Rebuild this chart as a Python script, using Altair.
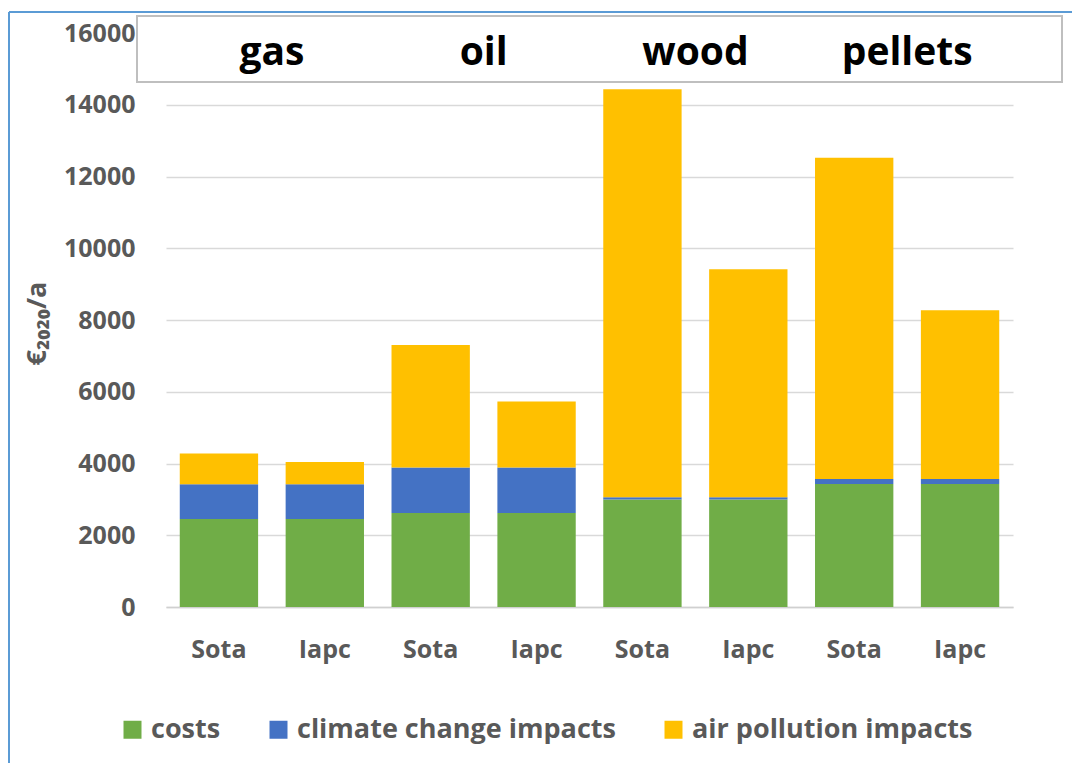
import altair as alt
import pandas as pd

# Annual cost of heating options, split into private costs and external impacts
fuels = ["gas", "gas", "oil", "oil", "wood", "wood", "pellets", "pellets"]
variants = ["Sota", "Iapc", "Sota", "Iapc", "Sota", "Iapc", "Sota", "Iapc"]
costs = [2450, 2450, 2620, 2620, 3000, 3000, 3430, 3430]
climate_change = [970, 970, 1270, 1270, 60, 60, 140, 140]
air_pollution = [860, 625, 3410, 1840, 11370, 6355, 8955, 4705]

components = ["costs", "climate change impacts", "air pollution impacts"]
colors = ["#70AD47", "#4472C4", "#FFC000"]
fuel_labels = ["gas", "oil", "wood", "pellets"]
y_ticks = [0, 2000, 4000, 6000, 8000, 10000, 12000, 14000, 16000]

rows = []
for i, (f, v) in enumerate(zip(fuels, variants)):
    key = f + " " + v
    for j, (comp, vals) in enumerate(zip(components, [costs, climate_change, air_pollution])):
        rows.append({"bar": key, "component": comp, "order": j, "value": vals[i]})
df = pd.DataFrame(rows)
bar_order = [f + " " + v for f, v in zip(fuels, variants)]

W, H = 847, 574
LEFT, TOP = 166, 33
FONT = "Open Sans"
GREY = "#595959"

x_scale = alt.Scale(domain=bar_order, paddingInner=0.26, paddingOuter=0.13)

bars = alt.Chart(df).mark_bar().encode(
    x=alt.X("bar:N", scale=x_scale, sort=bar_order, title=None,
            axis=alt.Axis(labelExpr="split(datum.label, ' ')[1]", labelAngle=0,
                          labelFont=FONT, labelFontWeight="bold", labelFontSize=25,
                          labelColor=GREY, labelPadding=30, ticks=False,
                          domainColor="#d0d0d0", domainWidth=1.5)),
    y=alt.Y("value:Q", stack="zero",
            scale=alt.Scale(domain=[0, 16000], nice=False),
            title="€₂₀₂₀/a",
            axis=alt.Axis(values=y_ticks, format="d", labelFont=FONT,
                          labelFontWeight="bold", labelFontSize=25, labelColor=GREY,
                          labelPadding=31, ticks=False, domain=False,
                          gridColor="#d9d9d9", gridWidth=1.5, titleFont=FONT,
                          titleFontWeight="bold", titleFontSize=27, titleColor=GREY,
                          titleAngle=-90, titleX=-129, titleY=290,
                          titleAlign="center", titleBaseline="middle")),
    color=alt.Color("component:N", scale=alt.Scale(domain=components, range=colors),
                    legend=alt.Legend(title=None, orient="none", direction="horizontal",
                                      legendX=-47, legendY=683, symbolType="square",
                                      symbolSize=324, symbolStrokeWidth=0,
                                      labelFont=FONT, labelFontSize=27,
                                      labelFontWeight="bold", labelLimit=0,
                                      labelColor=GREY, labelOffset=5,
                                      columnPadding=44)),
    order=alt.Order("order:Q", sort="ascending"),
)

# Header box with fuel names
box_df = pd.DataFrame({"x": [0]})
box = alt.Chart(box_df).mark_rect(fill="white", stroke="#bfbfbf", strokeWidth=2).encode(
    x=alt.value(-29), x2=alt.value(896), y=alt.value(-17), y2=alt.value(49)
)

label_df = pd.DataFrame({"bar": [f + " Sota" for f in fuel_labels], "fuel": fuel_labels})
labels = alt.Chart(label_df).mark_text(
    font=FONT, fontWeight="bold", fontSize=39, color="black",
    dx=53, baseline="middle", align="center"
).encode(
    x=alt.X("bar:N", scale=x_scale, sort=bar_order),
    y=alt.value(20),
    text="fuel:N",
)

# Thin frame lines along the top and left edges
frame_left = alt.Chart(box_df).mark_rule(color="#5B9BD5", strokeWidth=2).encode(
    x=alt.value(-157), y=alt.value(-21), y2=alt.value(730)
)
frame_top = alt.Chart(box_df).mark_rule(color="#5B9BD5", strokeWidth=2).encode(
    x=alt.value(-157), x2=alt.value(906), y=alt.value(-21)
)

chart = alt.layer(bars, box, labels, frame_left, frame_top).properties(
    width=W, height=H,
    autosize=alt.AutoSizeParams(type="none"),
    padding={"left": LEFT, "top": TOP, "right": 1072 - LEFT - W, "bottom": 763 - TOP - H},
    background="white",
).configure_view(stroke=None)

chart.save("out.html", embed_options={"renderer": "svg", "actions": False})
